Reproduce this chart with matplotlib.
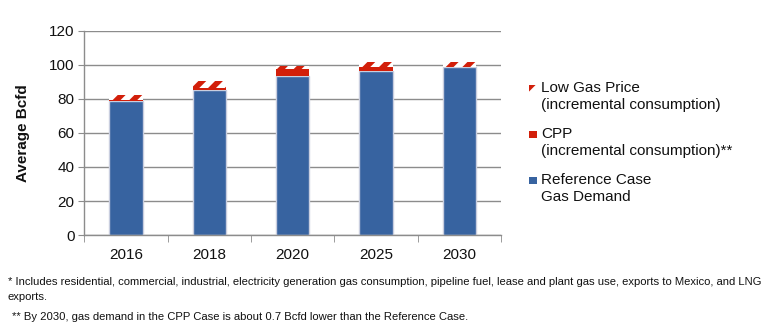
import matplotlib
matplotlib.use("Agg")
import matplotlib.pyplot as plt
from matplotlib.patches import Rectangle
import numpy as np

# ---- data (Bcfd) ----
years = ["2016", "2018", "2020", "2025", "2030"]
reference = [78.8, 85.0, 93.2, 96.6, 99.0]
cpp = [0.4, 1.4, 4.4, 2.0, -0.7]
low_gas = [3.0, 4.2, 2.0, 3.2, 2.6]

BLUE = "#3763A0"
RED = "#D21F0A"
EDGE = "#C9CEDF"
GRID = "#8C8C8C"
INK = "#111111"

plt.rcParams["font.family"] = ["Liberation Sans", "DejaVu Sans"]
plt.rcParams["hatch.linewidth"] = 4.0

fig = plt.figure(figsize=(7.65, 3.32), dpi=100, facecolor="white")
ax = fig.add_axes([0.110, 0.292, 0.545, 0.615])

x = np.arange(len(years))
w = 0.40
ref = np.array(reference)
cp = np.array(cpp)
lg = np.array(low_gas)

ax.bar(x, ref, w, color=BLUE, edgecolor=EDGE, linewidth=1.0, zorder=3)
pos = np.where(cp > 0, cp, 0)
neg = np.where(cp < 0, cp, 0)
ax.bar(x, pos, w, bottom=ref, color=RED, linewidth=0, zorder=3)
ax.bar(x, neg, w, bottom=0, color="#F0A0A0", linewidth=0, zorder=3)
ax.bar(x, lg, w, bottom=ref + pos, facecolor="white", edgecolor=RED,
       hatch="//", linewidth=0, zorder=3)

ax.set_xlim(-0.5, len(years) - 0.5)
ax.set_ylim(0, 120)
ax.set_yticks(range(0, 121, 20))
ax.set_xticks(x)
ax.set_xticklabels(years)
ax.set_xticks(np.arange(-0.5, len(years)), minor=True)
ax.tick_params(axis="x", which="major", length=0, pad=9, labelsize=11, colors=INK)
ax.tick_params(axis="x", which="minor", length=5, color=GRID, direction="out")
ax.tick_params(axis="y", length=4, color=GRID, labelsize=11, pad=3, colors=INK)
ax.yaxis.grid(True, color=GRID, linewidth=1.0, zorder=0)
ax.set_axisbelow(True)
for s in ["top", "right"]:
    ax.spines[s].set_visible(False)
for s in ["left", "bottom"]:
    ax.spines[s].set_color(GRID)
    ax.spines[s].set_linewidth(1.0)
ax.spines["bottom"].set_zorder(4)

fig.text(0.030, 0.60, "Average Bcfd", rotation=90, ha="center", va="center",
         fontsize=11, fontweight="bold", color=INK)

# ---- legend (manual) ----
W, H = 765.0, 332.0
leg = [
    ("Low Gas Price\n(incremental consumption)", dict(facecolor="white", edgecolor=RED,
                                                        hatch="//", linewidth=0), 85),
    ("CPP\n(incremental consumption)**", dict(facecolor=RED, linewidth=0), 131),
    ("Reference Case\nGas Demand", dict(facecolor=BLUE, linewidth=0), 177),
]
for label, style, ytop in leg:
    fig.add_artist(Rectangle((529 / W, 1 - (ytop + 7) / H), 8 / W, 7 / H,
                             transform=fig.transFigure, **style))
    fig.text(541 / W, 1 - (ytop - 4) / H, label, ha="left", va="top",
             fontsize=11, color=INK, linespacing=1.25)

# ---- footnotes ----
notes = ("* Includes residential, commercial, industrial, electricity generation gas consumption, "
         "pipeline fuel, lease and plant gas use, exports to Mexico, and LNG\nexports.")
fig.text(8 / W, 1 - 277 / H, notes, ha="left", va="top", fontsize=8.1,
         color=INK, linespacing=1.6)
fig.text(12 / W, 1 - 312 / H,
         "** By 2030, gas demand in the CPP Case is about 0.7 Bcfd lower than the Reference Case.",
         ha="left", va="top", fontsize=8.1, color=INK)

fig.savefig("out.png", dpi=100, facecolor="white")
